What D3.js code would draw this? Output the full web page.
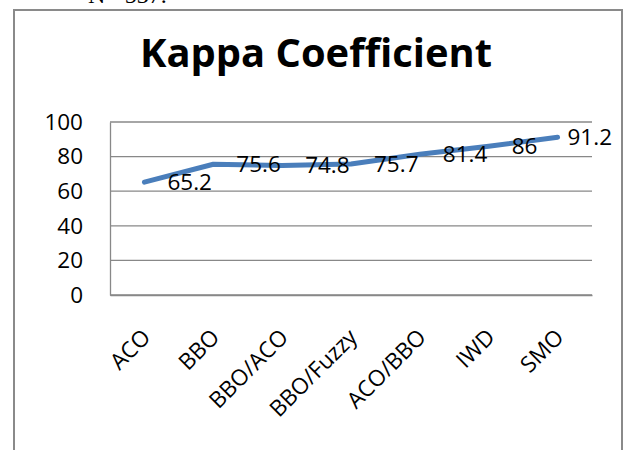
<!DOCTYPE html>
<html>
<head>
<meta charset="utf-8">
<script src="https://cdn.jsdelivr.net/npm/d3@7"></script>
<style>
  html, body { margin: 0; padding: 0; background: #fff; }
  svg { display: block; }
</style>
</head>
<body>
<svg id="chart" width="627" height="450"></svg>
<script>
// ---- data ----
const categories = ["ACO", "BBO", "BBO/ACO", "BBO/Fuzzy", "ACO/BBO", "IWD", "SMO"];
const kappaValues = [65.2, 75.6, 74.8, 75.7, 81.4, 86, 91.2];
const yTicks = [0, 20, 40, 60, 80, 100];
const chartTitle = "Kappa Coefficient";
const topNote = "N= 537.";

// ---- layout ----
const plot = { left: 110, right: 592, top: 122, bottom: 295 };
const fontFamily = "'Open Sans', Lato, sans-serif";

const svg = d3.select("#chart");

// cut-off text above the frame
svg.append("text")
  .attr("x", 88).attr("y", 3)
  .attr("font-family", "'Liberation Serif', 'Times New Roman', serif")
  .attr("font-size", 24)
  .attr("fill", "#000")
  .text(topNote);

// chart frame
svg.append("rect")
  .attr("x", 14).attr("y", 10)
  .attr("width", 608).attr("height", 460)
  .attr("fill", "#fff")
  .attr("stroke", "#8a8a8a")
  .attr("stroke-width", 2);

// title (sized to span the same width as the reference)
const title = svg.append("text")
  .attr("x", 316).attr("y", 67)
  .attr("text-anchor", "middle")
  .attr("font-family", fontFamily)
  .attr("font-weight", "bold")
  .attr("font-size", 36)
  .attr("fill", "#000")
  .text(chartTitle);
{
  const w = title.node().getComputedTextLength();
  const fs = Math.max(30, Math.min(42, 36 * 352 / w));
  title.attr("font-size", fs);
}

// scales
const x = d3.scaleBand().domain(categories).range([plot.left, plot.right]).padding(0);
const y = d3.scaleLinear().domain([0, 100]).range([plot.bottom, plot.top]);

// gridlines
svg.append("g")
  .selectAll("line")
  .data(yTicks)
  .join("line")
  .attr("x1", plot.left).attr("x2", plot.right)
  .attr("y1", d => y(d)).attr("y2", d => y(d))
  .attr("stroke", "#888")
  .attr("stroke-width", 1.3);

// y axis
const yAxis = d3.axisLeft(y).tickValues(yTicks).tickSize(0).tickPadding(27);
const gy = svg.append("g").attr("transform", `translate(${plot.left},0)`).call(yAxis);
gy.select(".domain").attr("stroke", "#888").attr("stroke-width", 1.3);
gy.selectAll("text")
  .attr("font-family", fontFamily)
  .attr("font-size", 22.5)
  .attr("fill", "#000");

// x axis
const xAxis = d3.axisBottom(x).tickSize(0).tickFormat(() => "");
const gx = svg.append("g").attr("transform", `translate(0,${plot.bottom})`).call(xAxis);
gx.select(".domain").attr("stroke", "#888").attr("stroke-width", 1.3);

// rotated category labels
svg.append("g")
  .selectAll("text")
  .data(categories)
  .join("text")
  .attr("transform", d => `translate(${x(d) + x.bandwidth() / 2 + 2},${plot.bottom + 38}) rotate(-45)`)
  .attr("text-anchor", "end")
  .attr("dy", "0.35em")
  .attr("font-family", fontFamily)
  .attr("font-size", 22.5)
  .attr("fill", "#000")
  .text(d => d);

// line
const line = d3.line()
  .x((d, i) => x(categories[i]) + x.bandwidth() / 2)
  .y(d => y(d));

svg.append("path")
  .datum(kappaValues)
  .attr("d", line)
  .attr("fill", "none")
  .attr("stroke", "#4A7EBB")
  .attr("stroke-width", 5)
  .attr("stroke-linecap", "round")
  .attr("stroke-linejoin", "round");

// data labels (to the right of each point)
const labels = svg.append("g")
  .selectAll("text")
  .data(kappaValues)
  .join("text")
  .attr("y", d => y(d))
  .attr("dy", "0.35em")
  .attr("font-family", fontFamily)
  .attr("font-size", 22.5)
  .attr("fill", "#000")
  .text(d => d);

labels.each(function(d, i) {
  const w = this.getComputedTextLength();
  const px = x(categories[i]) + x.bandwidth() / 2;
  const lx = Math.min(px + 23, 612 - w);
  d3.select(this).attr("x", lx);
});
</script>
</body>
</html>
